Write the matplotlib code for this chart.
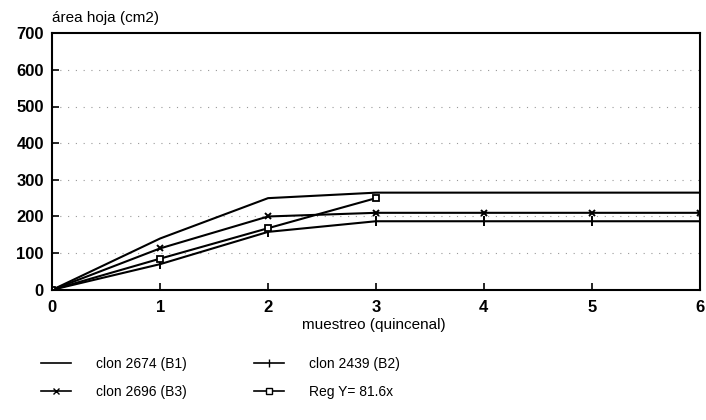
import matplotlib
matplotlib.use("Agg")
import matplotlib.pyplot as plt
from matplotlib.lines import Line2D

# sampling points (fortnightly)
muestreo = [0, 1, 2, 3, 4, 5, 6]
clon_2674 = [0, 140, 250, 265, 265, 265, 265]
clon_2439 = [0, 70, 158, 187, 187, 187, 187]
clon_2696 = [0, 113, 200, 210, 210, 210, 210]
reg_x = [0, 1, 2, 3]
reg_y = [0, 85, 168, 250]

x_ticks = [0, 1, 2, 3, 4, 5, 6]
y_ticks = [0, 100, 200, 300, 400, 500, 600, 700]

plt.rcParams['font.family'] = ['Liberation Sans', 'DejaVu Sans']

fig = plt.figure(figsize=(7.06, 4.2), dpi=100)
ax = fig.add_axes([0.074, 0.31, 0.917, 0.611])

# dotted grid
for v in y_ticks[1:-1]:
    ax.axhline(v, color='#999999', lw=0.8, ls=(0, (1, 6)), zorder=0)

ax.plot(muestreo, clon_2674, color='black', lw=1.5)
ax.plot(muestreo, clon_2439, color='black', lw=1.5, marker='|', ms=7, mew=1.4)
ax.plot(muestreo, clon_2696, color='black', lw=1.5, marker='x', ms=5, mew=1.4)
ax.plot(reg_x, reg_y, color='black', lw=1.5, marker='s', ms=5, mfc='white', mew=1.3)

ax.set_xlim(0, 6)
ax.set_ylim(0, 700)
ax.set_xticks(x_ticks)
ax.set_yticks(y_ticks)
ax.tick_params(axis='x', direction='in', length=5, width=1.2, labelsize=12, pad=7)
ax.tick_params(axis='y', direction='in', length=5, width=1.2, labelsize=12, pad=6)
for lab in ax.get_xticklabels() + ax.get_yticklabels():
    lab.set_fontweight('bold')
for s in ax.spines.values():
    s.set_linewidth(1.5)

fig.text(0.074, 0.958, "área hoja (cm2)", fontsize=11, ha='left', va='center')
fig.text(0.53, 0.225, "muestreo (quincenal)", fontsize=11, ha='center', va='center')

handles = [
    Line2D([], [], color='black', lw=1.2),
    Line2D([], [], color='black', lw=1.2, marker='x', ms=4),
    Line2D([], [], color='black', lw=1.2, marker='|', ms=6),
    Line2D([], [], color='black', lw=1.2, marker='s', ms=4, mfc='white'),
]
labels = ["clon 2674 (B1)", "clon 2696 (B3)", "clon 2439 (B2)", "Reg Y= 81.6x"]
fig.legend(handles, labels, ncol=2, loc='upper left', bbox_to_anchor=(0.04, 0.18),
           frameon=False, fontsize=10, handlelength=2.2, handletextpad=1.8,
           columnspacing=4.8, labelspacing=1.0)

plt.savefig("out.png", dpi=100)
